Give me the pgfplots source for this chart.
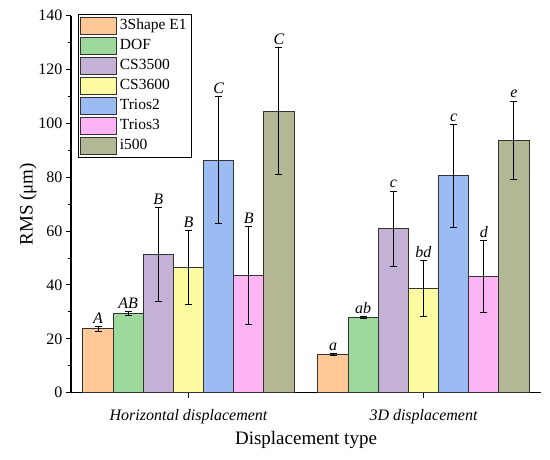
\documentclass[border=0pt]{standalone}
\usepackage{pgfplots}
\pgfplotsset{compat=1.18}
\usepackage{pgfplotstable}
\usepackage{fontspec}
\setmainfont{Liberation Serif}

\definecolor{c1}{HTML}{FFC896}
\definecolor{c2}{HTML}{9DD89C}
\definecolor{c3}{HTML}{C4B1D6}
\definecolor{c4}{HTML}{FDFBA0}
\definecolor{c5}{HTML}{9BBBF3}
\definecolor{c6}{HTML}{FDB4F5}
\definecolor{c7}{HTML}{B3B794}

\pgfplotstableread{
x y err lab
0 23.8 0.9 A
1 14.1 0.4 a
}\tA
\pgfplotstableread{
x y err lab
0 29.4 0.6 AB
1 27.9 0.4 ab
}\tB
\pgfplotstableread{
x y err lab
0 51.3 17.5 B
1 60.8 14.1 c
}\tC
\pgfplotstableread{
x y err lab
0 46.6 13.8 B
1 38.7 10.4 bd
}\tD
\pgfplotstableread{
x y err lab
0 86.4 23.5 C
1 80.6 19.1 c
}\tE
\pgfplotstableread{
x y err lab
0 43.5 18.3 B
1 43.1 13.5 d
}\tF
\pgfplotstableread{
x y err lab
0 104.6 23.5 C
1 93.8 14.5 e
}\tG

\begin{document}
\begin{tikzpicture}
\begin{axis}[
  at={(0,0)}, anchor=south west,
  width=470pt, height=377pt, scale only axis,
  xmin=-0.5, xmax=1.5, ymin=0, ymax=140,
  ybar=0pt, bar width=30.15pt,
  axis x line=bottom, axis y line=left,
  axis line style={-, line width=1.2pt, black},
  xtick={0,1},
  xticklabels={Horizontal displacement, 3D displacement},
  ytick={0,20,...,140}, minor y tick num=1,
  tick align=outside, major tick length=5pt, minor tick length=3pt,
  tick style={black, line width=1pt},
  /pgf/number format/assume math mode=true,
  y tick label style={font=\fontsize{16}{16}\selectfont},
  x tick label style={font=\fontsize{16}{16}\selectfont\itshape, yshift=-8pt},
  xlabel={Displacement type},
  ylabel={RMS (μm)},
  label style={font=\fontsize{19}{19}\selectfont},
  xlabel style={at={(axis description cs:0.5,-0.1255)}, anchor=center},
  ylabel style={at={(axis description cs:-0.0915,0.5)}, anchor=center},
  legend style={at={(0.0149,1.0045)}, anchor=north west,
    draw=black, line width=0.8pt, inner sep=1.5pt, row sep=0pt,
    font=\fontsize{15.5}{15.5}\selectfont,
    nodes={inner sep=3pt, text height=11pt, text depth=3pt}},
  legend cell align=left,
  legend image code/.code={\draw[#1, draw=black!80, line width=1pt] (0pt,-8.5pt) rectangle (36pt,8.5pt);},
  every axis plot/.append style={draw=black!80, line width=1pt,
    error bars/y dir=both, error bars/y explicit,
    error bars/error bar style={black, line width=1pt},
    error bars/error mark options={rotate=90, mark size=3.5pt, line width=1pt, black}},
  point meta=explicit symbolic,
  nodes near coords,
  visualization depends on={\thisrow{err} \as \myerr},
  every node near coord/.append style={font=\fontsize{16}{16}\selectfont\itshape, inner sep=2.5pt, yshift=\myerr*2.6929pt, black},
]
\addplot[fill=c1] table[x=x,y=y,y error=err,meta=lab] {\tA};
\addplot[fill=c2] table[x=x,y=y,y error=err,meta=lab] {\tB};
\addplot[fill=c3] table[x=x,y=y,y error=err,meta=lab] {\tC};
\addplot[fill=c4] table[x=x,y=y,y error=err,meta=lab] {\tD};
\addplot[fill=c5] table[x=x,y=y,y error=err,meta=lab] {\tE};
\addplot[fill=c6] table[x=x,y=y,y error=err,meta=lab] {\tF};
\addplot[fill=c7] table[x=x,y=y,y error=err,meta=lab] {\tG};
\legend{3Shape E1, DOF, CS3500, CS3600, Trios2, Trios3, i500}
\end{axis}
\pgfresetboundingbox
\useasboundingbox (-71pt,-66.3pt) rectangle (479pt,392.7pt);
\end{tikzpicture}
\end{document}
